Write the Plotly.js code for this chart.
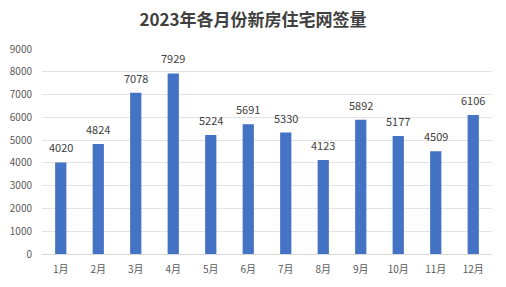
<!DOCTYPE html>
<html>
<head>
<meta charset="utf-8">
<script src="https://cdn.plot.ly/plotly-3.0.1.min.js"></script>
<style>html,body{margin:0;padding:0;background:#fff;}#chart{width:506px;height:287px;}</style>
</head>
<body>
<div id="chart"></div>
<script>
const months = ["1月","2月","3月","4月","5月","6月","7月","8月","9月","10月","11月","12月"];
const signings = [4020, 4824, 7078, 7929, 5224, 5691, 5330, 4123, 5892, 5177, 4509, 6106];
const yTicks = [0,1000,2000,3000,4000,5000,6000,7000,8000,9000];

const font = '"Noto Sans CJK SC", "Noto Sans", sans-serif';
const labels = months.map((m, i) => ({
  x: m, y: signings[i], text: String(signings[i]), showarrow: false,
  xref: 'x', yref: 'y', yanchor: 'bottom', yshift: 5,
  font: {family: font, size: 11, color: '#404040'}
}));
Plotly.newPlot('chart', [{
  type: 'bar',
  x: months,
  y: signings,
  marker: {color: '#4472C4'},
  hoverinfo: 'none'
}], {
  width: 506, height: 287,
  margin: {l: 42, r: 14, t: 49, b: 33},
  paper_bgcolor: '#fff', plot_bgcolor: '#fff',
  bargap: 0.7,
  showlegend: false,
  annotations: labels,
  title: {text: '<b>2023年各月份新房住宅网签量</b>', x: 0.5, xanchor: 'center', y: 0.93, yanchor: 'middle',
          font: {family: font, size: 17, color: '#404040'}},
  xaxis: {type: 'category', tickfont: {family: font, size: 10, color: '#595959'},
          showgrid: false, showline: true, linecolor: '#d9d9d9', ticks: '', ticklabelstandoff: 6},
  yaxis: {range: [0, 9000], tickvals: yTicks, ticktext: yTicks.map(String),
          tickfont: {family: font, size: 10, color: '#595959'},
          showgrid: true, gridcolor: '#e3e3e3', zeroline: false, showline: false, ticks: '', ticklabelstandoff: 9}
}, {staticPlot: true});
</script>
</body>
</html>
